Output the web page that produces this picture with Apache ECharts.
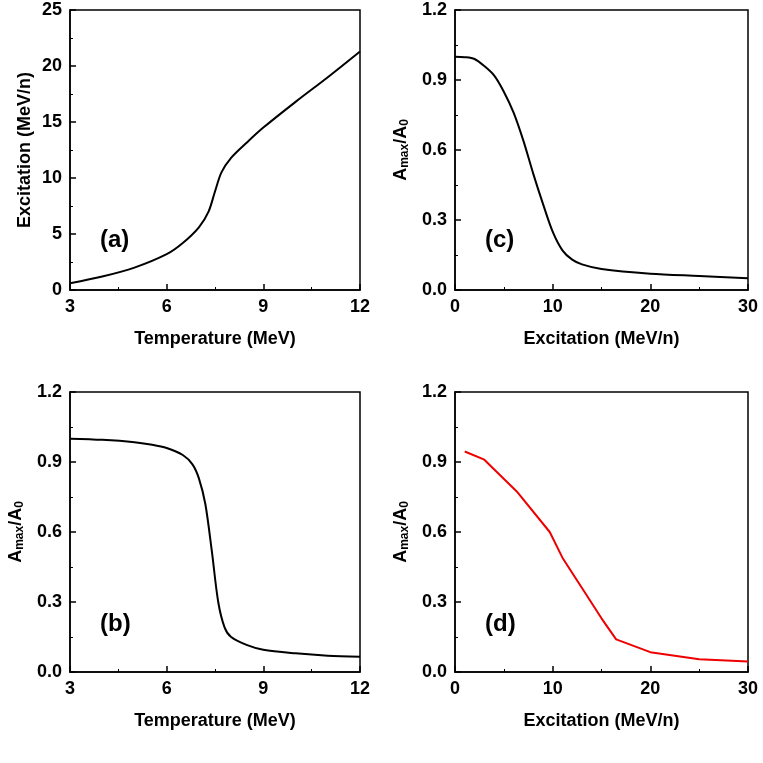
<!DOCTYPE html><html><head><meta charset="utf-8">
<script src="https://cdn.jsdelivr.net/npm/echarts@6/dist/echarts.min.js"></script>
<style>html,body{margin:0;padding:0;background:#fff}#c{width:763px;height:763px}</style></head><body><div id="c"></div>
<script>
const aT=[3,4,5,6,6.5,7,7.3,7.5,7.7,8,8.5,9,10,11,12];
const aE=[0.6,1.2,2.0,3.2,4.2,5.6,7.0,8.8,10.5,11.8,13.2,14.5,16.8,19.0,21.3];
const bT=[3,4,5,5.5,6,6.5,6.8,7,7.2,7.4,7.6,7.8,8,8.5,9,10,11,12];
const bA=[1.0,0.995,0.985,0.975,0.96,0.93,0.89,0.83,0.72,0.52,0.3,0.19,0.15,0.115,0.095,0.08,0.07,0.065];
const cE=[0,1,2,3,4,5,6,7,8,9,10,11,12,13,15,20,25,30];
const cA=[1.0,0.998,0.99,0.96,0.92,0.85,0.76,0.64,0.5,0.37,0.25,0.17,0.13,0.11,0.09,0.07,0.06,0.05];
const dE=[1,3,6.3,9.7,11,13,15,16.5,20,25,30];
const dA=[0.945,0.91,0.775,0.6,0.49,0.36,0.23,0.14,0.085,0.055,0.045];
const F='Liberation Sans';
const grids=[{left:70,top:10,width:290,height:280},{left:70,top:392,width:290,height:280},{left:455,top:10,width:293,height:280},{left:455,top:392,width:293,height:280}];
const ax=(g,min,max,iv,name,gap,isY)=>({gridIndex:g,type:'value',min,max,interval:iv,name,nameLocation:'middle',nameGap:gap,
 nameTextStyle:{fontFamily:F,fontWeight:'bold',fontSize:18,color:'#000',rich:{s:{fontFamily:F,fontWeight:'bold',fontSize:12,verticalAlign:'bottom',padding:[8,0,0,0]},n:{fontFamily:F,fontWeight:'bold',fontSize:18}}},
 axisLine:{show:true,lineStyle:{color:'#000',width:1.5}},axisTick:{inside:true,length:6,lineStyle:{color:'#000',width:1.5}},
 minorTick:{show:true,splitNumber:2,length:3,lineStyle:{color:'#000'}},splitLine:{show:false},
 axisLabel:{fontFamily:F,fontWeight:'bold',fontSize:18,color:'#000',margin:8,formatter:isY&&iv<1?(v=>v.toFixed(1)):null}});
const amax='{n|A}{s|max}{n|/A}{s|0}';
const opt={animation:false,
 grid:grids.map(g=>Object.assign({show:true,borderColor:'#000',borderWidth:1.5},g)),
 xAxis:[ax(0,3,12,3,'Temperature (MeV)',40),ax(1,3,12,3,'Temperature (MeV)',40),ax(2,0,30,10,'Excitation (MeV/n)',40),ax(3,0,30,10,'Excitation (MeV/n)',40)],
 yAxis:[ax(0,0,25,5,'Excitation (MeV/n)',36,1),ax(1,0,1.2,0.3,amax,44,1),ax(2,0,1.2,0.3,amax,44,1),ax(3,0,1.2,0.3,amax,44,1)],
 series:[[aT,aE,'#000'],[bT,bA,'#000'],[cE,cA,'#000'],[dE,dA,'#e00']].map((s,i)=>({type:'line',xAxisIndex:i,yAxisIndex:i,showSymbol:false,smooth:i<3?0.3:false,lineStyle:{color:s[2],width:2},data:s[0].map((x,k)=>[x,s[1][k]])})),
 graphic:[['(a)',100,228],['(b)',100,612],['(c)',485,228],['(d)',485,612]].map(t=>({type:'text',left:t[1],top:t[2],style:{text:t[0],font:'bold 24px "Liberation Sans"',fill:'#000'}}))
};
echarts.init(document.getElementById('c')).setOption(opt);
</script></body></html>
